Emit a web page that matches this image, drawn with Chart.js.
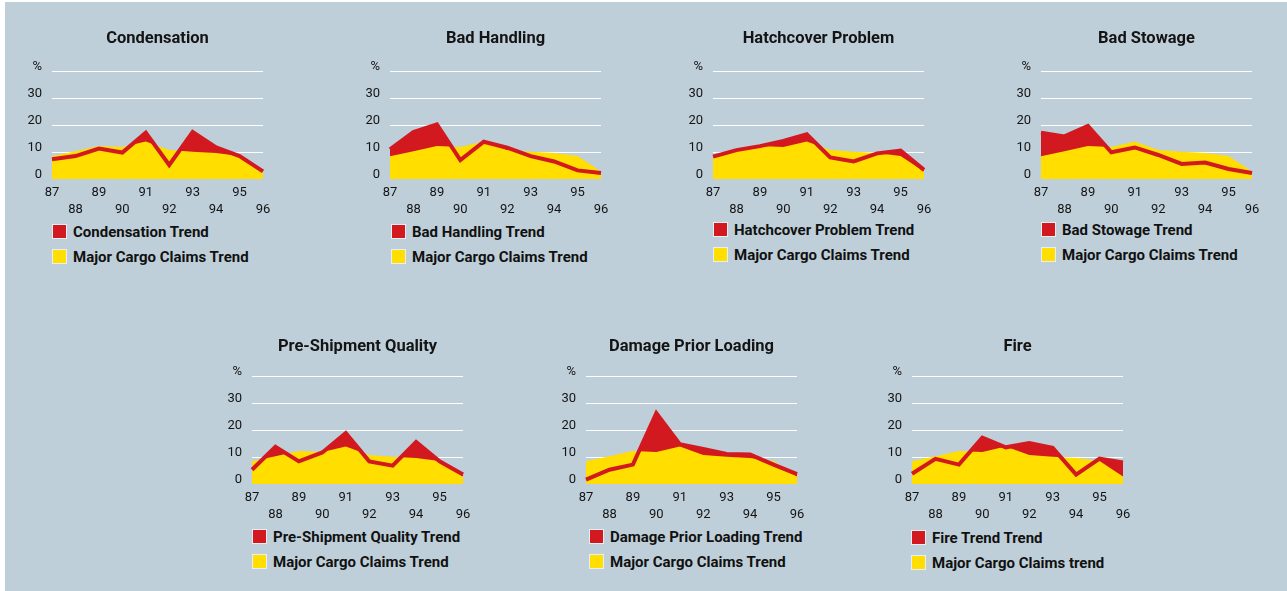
<!DOCTYPE html>
<html><head><meta charset="utf-8">
<script src="https://cdn.jsdelivr.net/npm/chart.js@4.4.1/dist/chart.umd.min.js"></script>
<style>
html,body{margin:0;padding:0;width:1287px;height:591px;overflow:hidden;background:#fff;position:relative;}
#bg{position:absolute;left:5px;top:2px;right:0;bottom:0;background:#bfcfd9;}
canvas{position:absolute;}
.lg{position:absolute;font-family:Roboto,sans-serif;font-weight:700;font-size:15px;color:#111;white-space:nowrap;}
.it{position:absolute;left:0;height:15px;display:flex;align-items:center;}
.sw{width:13px;height:13px;border:1px solid #e9eff2;margin-right:6px;flex:none;}
</style></head><body><div id="bg"></div>
<script>
// ---- data ----
const years = ['87','88','89','90','91','92','93','94','95','96'];
const majorClaims   = [8.4, 10.3, 12.2, 11.9, 13.9, 10.8, 10.1, 9.6, 8.5, 2.8];
const condensation  = [7.3, 8.5, 11.3, 9.8, 17.2, 5.2, 17.4, 11.7, 8.5, 2.8];
const badHandling   = [11.0, 17.4, 20.3, 7.0, 13.8, 11.6, 8.5, 6.5, 3.2, 2.2];
const hatchcover    = [8.3, 10.7, 12.2, 14.1, 16.6, 8.0, 6.5, 9.5, 10.5, 3.4];
const badStowage    = [17.2, 15.8, 19.7, 9.9, 11.7, 8.9, 5.6, 6.1, 3.7, 2.2];
const preShipment   = [5.3, 13.8, 8.4, 11.7, 18.9, 8.4, 6.8, 15.6, 8.4, 3.5];
const damagePrior   = [1.6, 5.3, 7.2, 26.3, 14.8, 13.0, 11.1, 10.9, 7.2, 3.7];
const fire          = [3.8, 9.3, 7.2, 17.2, 13.6, 15.2, 13.4, 3.5, 9.4, 8.0];
const yTickValues   = [0, 10, 20, 30, 40];
const titles = ['Condensation','Bad Handling','Hatchcover Problem','Bad Stowage','Pre-Shipment Quality','Damage Prior Loading','Fire'];
const trendLabels = ['Condensation Trend','Bad Handling Trend','Hatchcover Problem Trend','Bad Stowage Trend','Pre-Shipment Quality Trend','Damage Prior Loading Trend','Fire Trend Trend'];
const majorLabels = ['Major Cargo Claims Trend','Major Cargo Claims Trend','Major Cargo Claims Trend','Major Cargo Claims Trend','Major Cargo Claims Trend','Major Cargo Claims Trend','Major Cargo Claims trend'];
const trendSeries = [condensation, badHandling, hatchcover, badStowage, preShipment, damagePrior, fire];

// ---- layout (positions only) ----
const panels = [
  {x:52,  y:10,  h:209, tp:20, tb:23, lx:52,  ly:224},
  {x:390, y:10,  h:209, tp:20, tb:23, lx:391, ly:224},
  {x:713, y:10,  h:209, tp:20, tb:23, lx:713, ly:222},
  {x:1041,y:10,  h:209, tp:20, tb:23, lx:1041,ly:222},
  {x:252, y:320, h:204, tp:18, tb:20, lx:252, ly:529},
  {x:586, y:320, h:204, tp:18, tb:20, lx:589, ly:529},
  {x:912, y:320, h:204, tp:18, tb:20, lx:911, ly:530}
];
const PLOT_W = 211, SIDE = 40;
const RED = '#d2191f', YELLOW = '#ffde00', TXT = '#141414';

// centre the title over the plot area rather than over the whole canvas
const centerTitle = {
  id: 'centerTitle',
  afterLayout(chart){
    const t = chart.titleBlock, ca = chart.chartArea;
    if (!t || !ca) return;
    const w = t.right - t.left, c = (ca.left + ca.right) / 2;
    t.left = c - w/2; t.right = c + w/2;
  }
};

function makePanel(i){
  const P = panels[i];
  const cv = document.createElement('canvas');
  cv.width = PLOT_W + 2*SIDE; cv.height = P.h;
  cv.style.left = (P.x - SIDE) + 'px'; cv.style.top = P.y + 'px';
  document.body.appendChild(cv);
  new Chart(cv, {
    type:'line',
    plugins:[centerTitle],
    data:{labels: years, datasets:[
      {label: trendLabels[i], data: trendSeries[i], borderColor: RED, borderWidth: 4, fill:false, pointRadius:0, order:0, borderJoinStyle:'miter'},
      {label: majorLabels[i], data: majorClaims, borderColor:'rgba(0,0,0,0)', borderWidth:0, backgroundColor: YELLOW, fill:'origin', pointRadius:0, order:1},
      {label: trendLabels[i], data: trendSeries[i], borderColor:'rgba(0,0,0,0)', borderWidth:0, backgroundColor: RED, fill:'origin', pointRadius:0, order:2}
    ]},
    options:{
      responsive:false, animation:false, devicePixelRatio:1,
      layout:{padding:{left:0,right:SIDE,top:0,bottom:0}},
      plugins:{
        legend:{display:false}, tooltip:{enabled:false},
        title:{display:true, text: titles[i], color: TXT,
          font:{family:'Roboto', weight:'bold', size:16.5, lineHeight:1.1},
          padding:{top:P.tp, bottom:P.tb}}
      },
      scales:{
        x:{ offset:false, grid:{display:false, drawTicks:false}, border:{display:false},
            ticks:{autoSkip:false, maxRotation:0, minRotation:0, padding:5, color: TXT,
              font:{family:'Roboto', size:13, lineHeight:1.3},
              callback:(v,idx)=> idx % 2 ? ['', years[idx]] : years[idx]},
            afterFit: s => { s.height = 40; } },
        y:{ min:0, max:40,
            grid:{color: c => c.tick && c.tick.value === 0 ? 'rgba(0,0,0,0)' : '#ffffff', lineWidth:1, drawTicks:false},
            border:{display:false},
            afterBuildTicks: s => { s.ticks = yTickValues.map(v => ({value:v})); },
            ticks:{padding:10, labelOffset:-4, color: TXT, font:{family:'Roboto', size:13},
              callback: v => v === 40 ? '%' : String(v)},
            afterFit: s => { s.width = SIDE; } }
      }
    }
  });
  const lg = document.createElement('div');
  lg.className = 'lg'; lg.style.left = P.lx + 'px'; lg.style.top = P.ly + 'px';
  lg.innerHTML = '<div class="it" style="top:0"><span class="sw" style="background:'+RED+'"></span>'+trendLabels[i]+'</div>'+
                 '<div class="it" style="top:25px"><span class="sw" style="background:'+YELLOW+'"></span>'+majorLabels[i]+'</div>';
  document.body.appendChild(lg);
}
for (let i = 0; i < panels.length; i++) makePanel(i);
</script>
</body></html>
